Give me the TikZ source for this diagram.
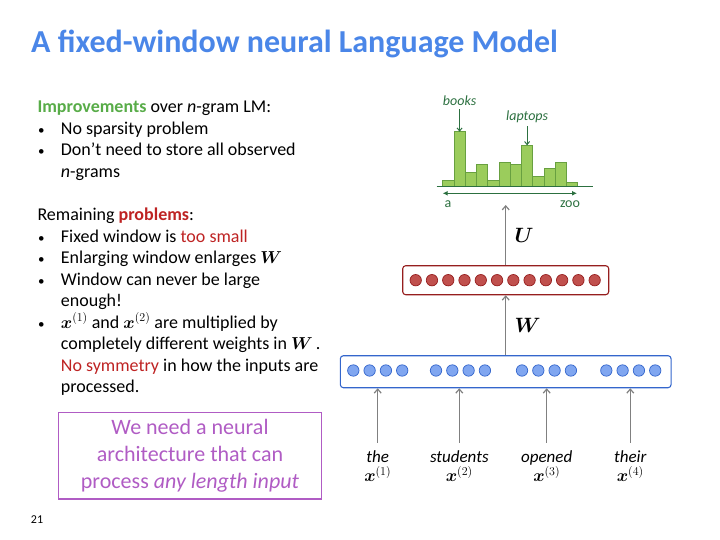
\documentclass[tikz,border=0pt]{standalone}
\usepackage{amsmath}
\usepackage{fontspec}
\setmainfont{Carlito}
\usetikzlibrary{positioning, arrows.meta, calc}

\definecolor{titleblue}{RGB}{74,134,232}
\definecolor{goodgreen}{RGB}{88,172,72}
\definecolor{badred}{RGB}{190,35,35}
\definecolor{boxpurple}{RGB}{176,92,196}
\definecolor{barfill}{RGB}{155,204,92}
\definecolor{barline}{RGB}{104,160,64}
\definecolor{distgreen}{RGB}{44,112,64}
\definecolor{hidfill}{RGB}{192,80,77}
\definecolor{hidline}{RGB}{150,30,30}
\definecolor{embfill}{RGB}{128,166,240}
\definecolor{embline}{RGB}{52,102,204}
\definecolor{arrowgray}{RGB}{128,128,128}

\begin{document}
\begin{tikzpicture}[
  x=1pt, y=-1pt,
  txt/.style={anchor=base west, inner sep=0pt, align=left, font=\fontsize{18}{21.5}\selectfont},
  dot/.style={anchor=base west, inner sep=0pt, font=\fontsize{13}{21.5}\selectfont},
  layerbox/.style={draw, rounded corners=3pt, line width=1.1pt, fill=white},
  unit/.style={circle, draw, line width=0.7pt, inner sep=0pt, minimum size=11.4pt},
  arrow/.style={-{Straight Barb[length=4pt, width=7pt]}, arrowgray, line width=1.2pt},
  distarrow/.style={-{Straight Barb[length=3pt, width=5pt]}, distgreen, line width=1pt},
  bar/.style={draw=barline, fill=barfill, line width=0.8pt},
  word/.style={anchor=base, inner sep=0pt, font=\fontsize{17}{20}\selectfont\itshape},
  small/.style={font=\fontsize{14}{16}\selectfont, text=distgreen},
  mlabel/.style={right=5pt, text=black, font=\fontsize{20}{22}\selectfont}
]
\useasboundingbox (0,0) rectangle (720,540);

% title
\node[anchor=base west, inner sep=0pt, font=\fontsize{32}{38}\selectfont\bfseries, text=titleblue]
  (title) at (31,53) {A fixed-window neural Language Model};

% left column (multi-line nodes sit on the baseline of their last line)
\node[txt] (impr) at (37.3,112.7) {\textcolor{goodgreen}{\textbf{Improvements}} over \textit{n}-gram LM:};
\node[dot] (d1) at (38,134.2) {•};
\node[txt] (i1) at (60.7,134.2) {No sparsity problem};
\node[dot] (d2) at (38,155.7) {•};
\node[txt] (i2) at (60.7,177.2) {Don’t need to store all observed\\\textit{n}-grams};

\node[txt] (remain) at (37.3,220.7) {Remaining \textcolor{badred}{\textbf{problems}}:};
\node[dot] (d3) at (38,242.2) {•};
\node[txt] (p1) at (60.7,242.2) {Fixed window is \textcolor{badred}{too small}};
\node[dot] (d4) at (38,263.7) {•};
\node[txt] (p2) at (60.7,263.7) {Enlarging window enlarges $\boldsymbol{W}$};
\node[dot] (d5) at (38,285.2) {•};
\node[txt] (p3) at (60.7,306.7) {Window can never be large\\enough!};
\node[dot] (d6) at (38,328.2) {•};
\node[txt] (p4) at (60.7,392.7) {$\boldsymbol{x}^{(1)}$ and $\boldsymbol{x}^{(2)}$ are multiplied by\\completely different weights in $\boldsymbol{W}$\,.\\\textcolor{badred}{No symmetry} in how the inputs are\\processed.};

% purple message box
\node[draw=boxpurple, line width=1.5pt, minimum width=263pt, minimum height=86.7pt, align=center,
  text=boxpurple, font=\fontsize{22}{26.7}\selectfont] (need) at (190,455.7)
  {We need a neural\\architecture that can\\process \textit{any length input}};

\node[anchor=base, inner sep=0pt, font=\fontsize{12}{14}\selectfont] (num) at (37,523) {21};

% output distribution
\foreach \h [count=\i] in {180.3,131.7,172.7,164.3,180.3,162.3,164.3,145.3,176.7,168,162,182.7}
  \draw[bar] ({442.7+(\i-1)*11.25},186.7) rectangle ({442.7+\i*11.25},\h);
\draw[distgreen, line width=1.2pt] (436.7,186.7) -- (593.3,186.7);
\draw[distgreen, line width=1.2pt, {Latex[length=5pt, width=5pt]}-{Latex[length=5pt, width=5pt]}] (442.7,193.3) -- (577,193.3);
\node[small] (a) at (448,204) {a};
\node[small] (zoo) at (570,204) {zoo};
\node[small, font=\fontsize{14}{16}\selectfont\itshape] (books) at (459.6,101) {books};
\node[small, font=\fontsize{14}{16}\selectfont\itshape] (laptops) at (527.1,116.7) {laptops};
\coordinate (booksbar) at (459.6,131.7);
\coordinate (laptopsbar) at (527.1,145.3);
\draw[distarrow] (books) -- (booksbar);
\draw[distarrow] (laptops) -- (laptopsbar);
\coordinate (distbot) at (505.7,205);

% hidden layer
\node[layerbox, draw=hidline, minimum width=206pt, minimum height=29pt] (hid) at (505.7,280.2) {};
\foreach \i in {0,...,11}
  \node[unit, draw=hidline, fill=hidfill] (h\i) at ({415.7+\i*16.27},280.2) {};

% embedding layer
\node[layerbox, draw=embline, minimum width=330.7pt, minimum height=32pt] (emb) at (505.7,371.7) {};
\foreach \g/\s in {0/353.3, 1/436, 2/522, 3/606.3}
  \foreach \k in {0,...,3}
    \node[unit, draw=embline, fill=embfill] (e\g\k) at ({\s+\k*16.3},370.5) {};

\draw[arrow] (hid) -- node[mlabel] (ulab) {$\boldsymbol{U}$} (distbot);
\draw[arrow] (emb) -- node[mlabel] (wlab) {$\boldsymbol{W}$} (hid);

% input words
\node[word] (w1) at (377.7,462.7) {the};
\node[word] (w2) at (459.3,462.7) {students};
\node[word] (w3) at (546.7,462.7) {opened};
\node[word] (w4) at (630.3,462.7) {their};
\foreach \n in {1,...,4}
  \node[anchor=base, inner sep=0pt, font=\fontsize{17}{20}\selectfont] (x\n) at ($(w\n.base)+(0,19)$) {$\boldsymbol{x}^{(\n)}$};
\foreach \n in {1,...,4}
  \draw[arrow] ($(w\n.north)+(0,-8)$) -- (w\n |- emb.south);

\end{tikzpicture}
\end{document}
